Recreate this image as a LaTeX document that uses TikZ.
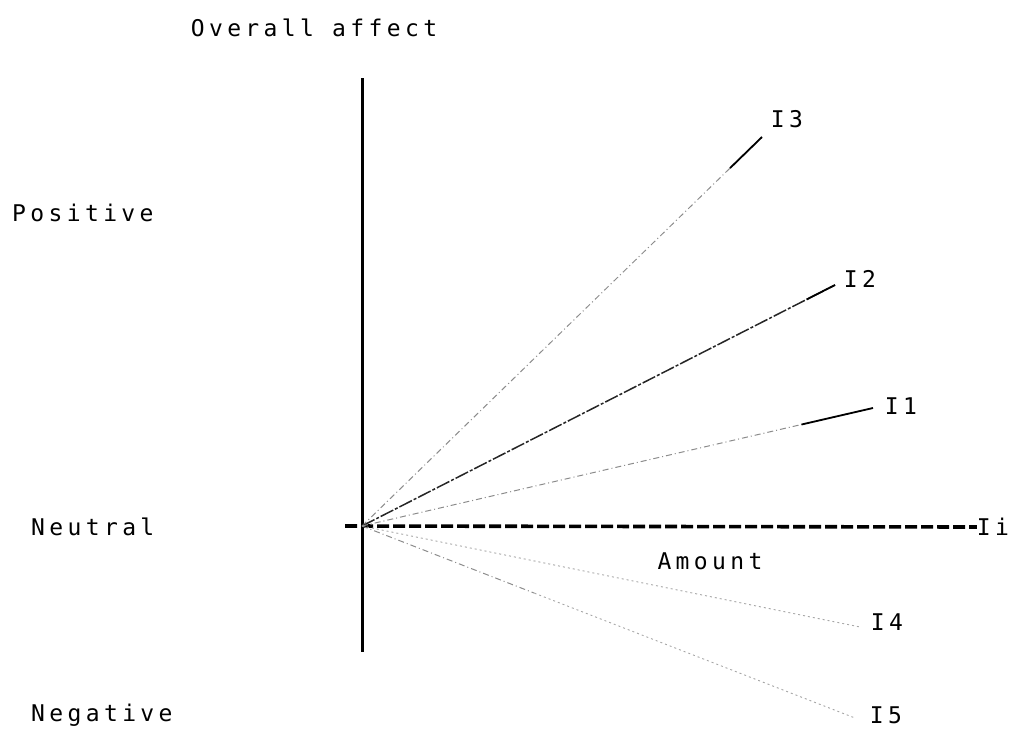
\documentclass[tikz,border=0pt]{standalone}
\usepackage{fontspec}
\newfontfamily\plotfont[LetterSpace=19]{DejaVu Sans Mono}
\usepackage{tikz}
\usetikzlibrary{positioning, calc}

\begin{document}
\begin{tikzpicture}[x=1pt, y=-1pt,
  every node/.style={font=\plotfont\fontsize{23}{25}\selectfont, inner sep=0pt},
  axisline/.style={line width=3pt, black},
  amountaxis/.style={line width=3.6pt, black, dash pattern=on 12pt off 4pt},
  raydark/.style={line width=1.5pt, black!85, dash pattern=on 14pt off 2pt on 3pt off 2pt},
  raylight/.style={line width=1pt, black!45, dash pattern=on 6pt off 3pt on 1pt off 3pt},
  rayfaint/.style={line width=0.9pt, black!35, dash pattern=on 2pt off 3pt},
  raytip/.style={line width=1.8pt, black}
]
  \useasboundingbox (0,0) rectangle (1012,729);
  \coordinate (o) at (362,526);
  \coordinate (top) at (362,78);
  \coordinate (bot) at (362,652);
  \coordinate (left) at (345,526);

  \node (title) at (314,28) {Overall affect};
  \node[anchor=west] (pos) at (12,213) {Positive};
  \node[anchor=west] (neu) at (31,527) {Neutral};
  \node[anchor=west] (neg) at (31,715) {Negative};
  \node (amount) at (710,561) {Amount};

  \node (Ii) at (993,527) {Ii};
  \node (I1) at (901,406) {I1};
  \node (I2) at (860,279) {I2};
  \node (I3) at (787,119) {I3};
  \node (I4) at (887,622) {I4};
  \node (I5) at (886,715) {I5};

  \coordinate (e1) at (873,408);
  \coordinate (e2) at (835,285);
  \coordinate (e3) at (762,137);
  \coordinate (e4) at (860,627);
  \coordinate (e5) at (855,718);

  \draw[axisline] (top) -- (bot);
  \draw[amountaxis] (left) -- (Ii.west);

  \draw[raylight] (o) -- (e3);
  \draw[raytip] ($(o)!0.92!(e3)$) -- (e3);
  \draw[raydark] (o) -- (e2);
  \draw[raytip] ($(o)!0.94!(e2)$) -- (e2);
  \draw[raylight] (o) -- (e1);
  \draw[raytip] ($(o)!0.86!(e1)$) -- (e1);
  \draw[rayfaint] (o) -- (e4);
  \draw[raylight] (o) -- ($(o)!0.35!(e5)$);
  \draw[rayfaint] ($(o)!0.35!(e5)$) -- (e5);
\end{tikzpicture}
\end{document}
